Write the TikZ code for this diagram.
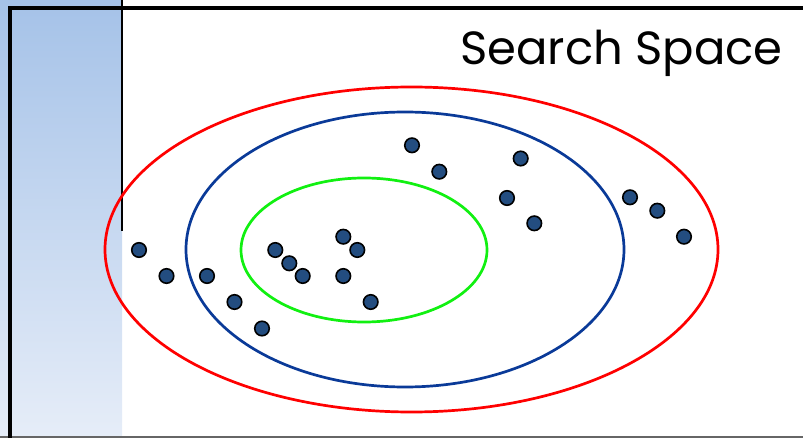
\documentclass[tikz,border=0pt]{standalone}
\usepackage{fontspec}
\setmainfont{Poppins}
\begin{document}
\begin{tikzpicture}[x=1pt,y=-1pt,
  pt/.style={circle,draw=black,line width=1.6pt,fill=dotblue,inner sep=0pt,minimum size=14.5pt},
  ring/.style={line width=2.7pt}]
\definecolor{dotblue}{HTML}{234D80}
\definecolor{bartop}{HTML}{A5C2E8}
\definecolor{barbot}{HTML}{E6EDF8}
\definecolor{ringblue}{HTML}{0A3A98}
\definecolor{ringgreen}{HTML}{11F011}
\useasboundingbox (0,0) rectangle (803,438);
\shade[top color=bartop,bottom color=barbot] (0,0) rectangle (122,438);
\draw[gray!80!black,line width=1.5pt] (0,437.2) -- (803,437.2);
\draw[line width=4pt] (803,8.5) -- (10,8.5) -- (10,438);
\draw[line width=2pt] (121.5,0) -- (121.5,231);
\draw[ring,red] (411.5,249.5) ellipse [x radius=306.5,y radius=162.5];
\draw[ring,ringblue] (405,249.5) ellipse [x radius=219,y radius=137.5];
\draw[ring,ringgreen] (364,250) ellipse [x radius=123,y radius=72];
\node[anchor=base east,font=\fontsize{46.5}{50}\selectfont,inner sep=0pt] (title) at (783,65) {Search Space};
\foreach \n/\x/\y in {a/139/250,b/166.5/276,c/207/276,d/234.5/302,e/262/328.5,
  f/275.3/250,g/289.3/263.3,h/302.7/276,i/343.3/236.7,j/357.3/250,k/343.3/276,l/370.7/302,
  m/412/145.3,n/439.3/171.7,o/520.7/158.5,p/507/198,q/534.3/223.3,
  r/630/197.3,s/657.3/210.7,t/684/236.7}
  \node[pt] (\n) at (\x,\y) {};
\end{tikzpicture}
\end{document}
